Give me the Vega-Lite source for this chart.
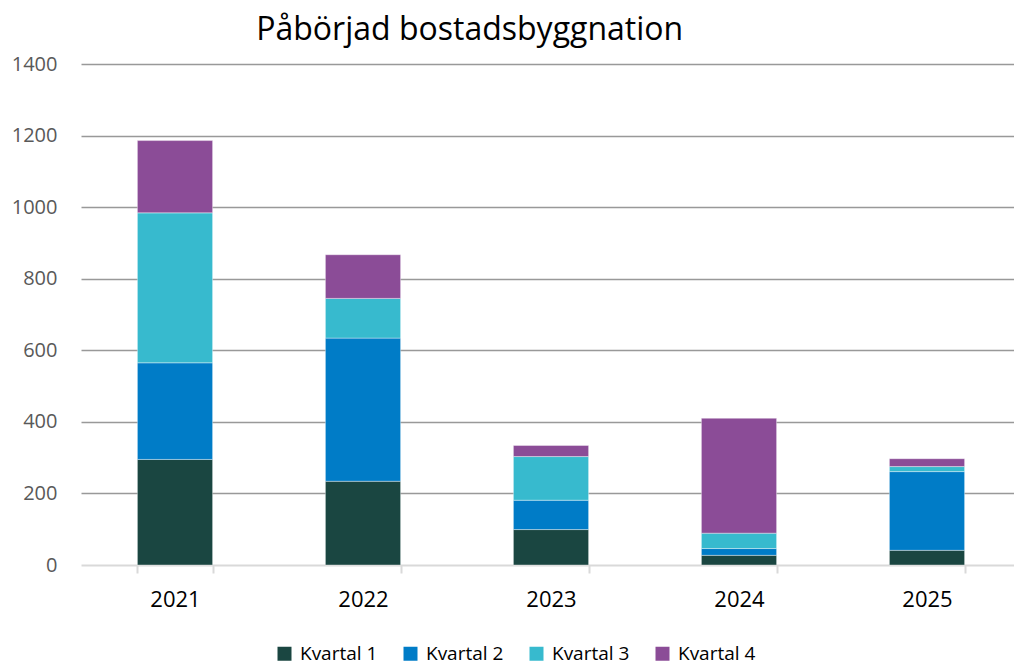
{
  "$schema": "https://vega.github.io/schema/vega-lite/v6.json",
  "width": 940,
  "height": 501,
  "autosize": "none",
  "padding": {"left": 81, "top": 64, "right": 0, "bottom": 99},
  "background": "white",
  "title": {
    "text": "Påbörjad bostadsbyggnation",
    "anchor": "start",
    "dx": 245,
    "dy": 42,
    "offset": 24,
    "baseline": "alphabetic",
    "font": "Open Sans",
    "fontSize": 32,
    "fontWeight": "normal",
    "color": "#000000"
  },
  "data": {
    "values": [
      {"year": "2021", "kvartal": "Kvartal 1", "q": 1, "value": 295},
      {"year": "2021", "kvartal": "Kvartal 2", "q": 2, "value": 270},
      {"year": "2021", "kvartal": "Kvartal 3", "q": 3, "value": 419},
      {"year": "2021", "kvartal": "Kvartal 4", "q": 4, "value": 202},
      {"year": "2022", "kvartal": "Kvartal 1", "q": 1, "value": 234},
      {"year": "2022", "kvartal": "Kvartal 2", "q": 2, "value": 400},
      {"year": "2022", "kvartal": "Kvartal 3", "q": 3, "value": 111},
      {"year": "2022", "kvartal": "Kvartal 4", "q": 4, "value": 122},
      {"year": "2023", "kvartal": "Kvartal 1", "q": 1, "value": 99},
      {"year": "2023", "kvartal": "Kvartal 2", "q": 2, "value": 82},
      {"year": "2023", "kvartal": "Kvartal 3", "q": 3, "value": 122},
      {"year": "2023", "kvartal": "Kvartal 4", "q": 4, "value": 31},
      {"year": "2024", "kvartal": "Kvartal 1", "q": 1, "value": 27},
      {"year": "2024", "kvartal": "Kvartal 2", "q": 2, "value": 19},
      {"year": "2024", "kvartal": "Kvartal 3", "q": 3, "value": 43},
      {"year": "2024", "kvartal": "Kvartal 4", "q": 4, "value": 321},
      {"year": "2025", "kvartal": "Kvartal 1", "q": 1, "value": 41},
      {"year": "2025", "kvartal": "Kvartal 2", "q": 2, "value": 220},
      {"year": "2025", "kvartal": "Kvartal 3", "q": 3, "value": 14},
      {"year": "2025", "kvartal": "Kvartal 4", "q": 4, "value": 22}
    ]
  },
  "mark": {"type": "bar", "stroke": "white", "strokeWidth": 0.75, "strokeOpacity": 0.5},
  "encoding": {
    "x": {
      "field": "year",
      "type": "nominal",
      "scale": {"paddingInner": 0.6, "paddingOuter": 0.3},
      "axis": {
        "title": null,
        "labelAngle": 0,
        "labelFont": "Open Sans",
        "labelFontSize": 22,
        "labelColor": "#000000",
        "labelPadding": 16,
        "domainColor": "#d9d9d9",
        "domainWidth": 2,
        "tickBand": "extent",
        "tickColor": "#d9d9d9",
        "tickWidth": 2,
        "tickSize": 8,
        "grid": false
      }
    },
    "y": {
      "field": "value",
      "type": "quantitative",
      "stack": "zero",
      "scale": {"domain": [0, 1400], "nice": false},
      "axis": {
        "title": null,
        "values": [0, 200, 400, 600, 800, 1000, 1200, 1400],
        "format": "d",
        "labelFont": "Open Sans",
        "labelFontSize": 20,
        "labelColor": "#595959",
        "labelPadding": 24,
        "domain": false,
        "ticks": false,
        "grid": true,
        "gridColor": {"condition": {"test": "datum.value === 0", "value": "transparent"}, "value": "#999999"},
        "gridWidth": 1.6
      }
    },
    "color": {
      "field": "kvartal",
      "type": "nominal",
      "scale": {
        "domain": ["Kvartal 1", "Kvartal 2", "Kvartal 3", "Kvartal 4"],
        "range": ["#1a4641", "#007cc7", "#37bace", "#8b4c97"]
      },
      "legend": {
        "title": null,
        "orient": "none",
        "direction": "horizontal",
        "legendX": 194,
        "legendY": 580,
        "symbolType": "square",
        "symbolSize": 196,
        "symbolStrokeWidth": 0,
        "labelFont": "Open Sans",
        "labelFontSize": 19,
        "labelColor": "#000000",
        "labelOffset": 6,
        "labelLimit": 0,
        "columnPadding": 23
      }
    },
    "order": {"field": "q", "type": "quantitative", "sort": "ascending"}
  },
  "config": {
    "view": {"stroke": null}
  }
}
